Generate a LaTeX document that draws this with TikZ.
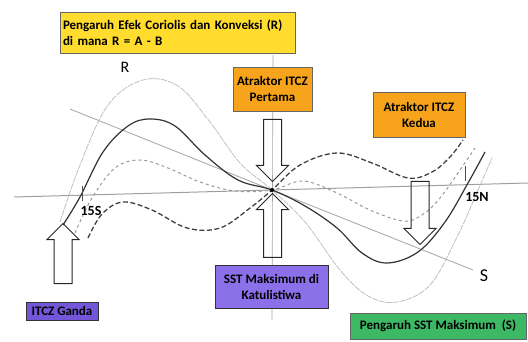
\documentclass[tikz,border=0pt]{standalone}
\usepackage{fontspec}
\setmainfont{Carlito}
\usetikzlibrary{shapes.arrows}
\definecolor{boxyellow}{HTML}{FFDC2E}
\definecolor{boxorange}{HTML}{F7A41C}
\definecolor{boxpurple}{HTML}{8C70EA}
\definecolor{boxviolet}{HTML}{7357D8}
\definecolor{boxgreen}{HTML}{3DB965}
\begin{document}
\begin{tikzpicture}[x=1pt, y=-1pt,
    infobox/.style={draw=black!60, line width=0.5pt, inner sep=1pt, font=\bfseries\fontsize{13}{16}\selectfont, align=center},
    hollowarrow/.style={single arrow, draw=black!85, line width=1pt, inner xsep=0pt, inner ysep=8.5pt,
        single arrow head extend=7pt, single arrow head indent=0pt, minimum width=31pt}]
    \useasboundingbox (0,0) rectangle (528,342);
    % Axes
    \coordinate (ctr) at (272,190);
    \coordinate (hleft) at (14,197);
    \coordinate (hright) at (528,183);
    \coordinate (vtop) at (273,55);
    \coordinate (vbot) at (272,320);
    \draw[gray!75, line width=1pt] (hleft) -- (ctr) -- (hright);
    \draw[gray!70, line width=0.6pt] (vtop) -- (vbot);
    % Straight line R to S
    \coordinate (rstart) at (70,109);
    \coordinate (send) at (473,270);
    \draw[gray!65, line width=0.9pt] (rstart) -- (ctr) -- (send);
    % Curves through the centre
    \draw[gray!50, line width=0.8pt, dash pattern=on 6pt off 1pt] plot[smooth, tension=0.6] coordinates {(60,222) (80,165) (108,105) (143,80) (178,86) (210,122) (240,163) (272,190) (305,222) (340,270) (368,296) (397,302) (430,285) (458,235) (478,190) (492,158)};
    \draw[black!80, line width=1.2pt] plot[smooth, tension=0.6] coordinates {(63,225) (80,197) (103,152) (128,126) (150,119) (175,126) (205,155) (238,180) (272,190) (305,206) (337,228) (362,253) (387,263) (418,252) (445,222) (468,183) (485,152)};
    \draw[gray!80, line width=1pt, dashed] plot[smooth, tension=0.6] coordinates {(75,233) (92,198) (115,168) (140,160) (168,168) (200,182) (235,191) (272,190) (303,181) (337,193) (370,210) (403,221) (422,215) (440,198) (460,170) (475,148)};
    \draw[black!75, line width=1.3pt, dash pattern=on 5pt off 2.5pt] plot[smooth, tension=0.6] coordinates {(88,238) (102,214) (123,202) (152,210) (187,228) (220,228) (250,208) (272,190) (300,165) (337,153) (372,163) (408,178) (432,172) (450,157) (463,140)};
    \fill[black] (ctr) circle (2pt);
    % Latitude ticks
    \coordinate (stick) at (82,186);
    \coordinate (ntick) at (465,166);
    \draw[black!70, line width=0.8pt] (stick) -- ++(0,15);
    \draw[black!70, line width=0.8pt] (ntick) -- ++(0,15);
    \node[font=\bfseries\fontsize{14}{16}\selectfont] (lat15s) at (91,211) {15S};
    \node[font=\bfseries\fontsize{14}{16}\selectfont] (lat15n) at (477,197) {15N};
    \node[font=\fontsize{16}{18}\selectfont] (labr) at (125,67) {R};
    \node[font=\fontsize{18}{20}\selectfont] (labs) at (484,276) {S};
    % Boxes
    \node[infobox, fill=boxyellow, minimum width=235, minimum height=41, align=left, text width=229] (coriolis) at (177.5,32.5) {Pengaruh Efek Coriolis dan Konveksi (R)\\di mana R = A - B};
    \node[infobox, fill=boxorange, minimum width=79, minimum height=44] (attr1) at (272.5,89) {Atraktor ITCZ\\Pertama};
    \node[infobox, fill=boxorange, minimum width=92, minimum height=45] (attr2) at (419,114.5) {Atraktor ITCZ\\Kedua};
    \node[infobox, fill=boxpurple, draw=black!80, minimum width=113, minimum height=43] (sstequ) at (271.5,286.5) {SST Maksimum di\\Katulistiwa};
    \node[infobox, fill=boxviolet, draw=black!80, minimum width=72, minimum height=18] (ganda) at (62,311) {ITCZ Ganda};
    \node[infobox, fill=boxgreen, minimum width=176, minimum height=26] (sstmax) at (438,326) {Pengaruh SST Maksimum~~(S)};
    % Block arrows
    \node[hollowarrow, minimum height=62, rotate=-90] (arrdown) at (272.5,146) {};
    \node[hollowarrow, minimum height=64, rotate=90] (arrup) at (272.5,230) {};
    \node[hollowarrow, minimum height=60, rotate=90] (arrganda) at (63,258) {};
    \node[hollowarrow, minimum height=63, rotate=-90] (arrkedua) at (420,208.5) {};
\end{tikzpicture}
\end{document}
